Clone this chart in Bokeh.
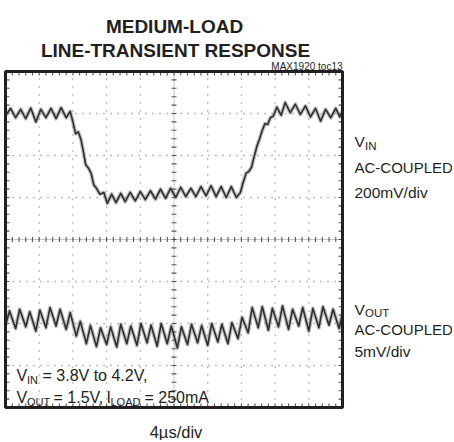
import numpy as np
from bokeh.plotting import figure
from bokeh.models import Label, Range1d, ColumnDataSource
from bokeh.embed import file_html
from bokeh.resources import INLINE

# ---------------- data (divisions; x: 4us/div, y: screen divisions) ----------------
vin_t = [0.00, 0.15, 0.30, 0.45, 0.60, 0.75, 0.90, 1.05, 1.20, 1.35, 1.50, 1.65, 1.80, 1.92,
         2.00, 2.08, 2.16, 2.24, 2.32, 2.38, 2.46, 2.54, 2.62, 2.70, 2.80,
         2.92, 3.02, 3.15, 3.28, 3.42, 3.55, 3.70, 3.85, 4.00, 4.15, 4.30, 4.45, 4.60, 4.75,
         4.90, 5.05, 5.20, 5.35, 5.50, 5.65, 5.80, 5.95, 6.10, 6.25, 6.40, 6.55, 6.70, 6.85, 6.97,
         7.05, 7.14, 7.22, 7.30, 7.38, 7.46, 7.54, 7.62, 7.70, 7.78, 7.86, 7.95,
         8.05, 8.18, 8.30, 8.45, 8.60, 8.75, 8.90, 9.05, 9.20, 9.35, 9.50, 9.65, 9.80, 9.92, 10.00]
vin_v = [2.95, 3.12, 2.90, 3.10, 2.88, 3.13, 2.80, 3.10, 2.90, 3.12, 2.88, 3.14, 2.90, 3.05,
         2.80, 2.52, 2.56, 2.38, 2.05, 1.78, 1.70, 1.58, 1.30, 1.22, 1.08,
         1.12, 0.86, 1.08, 0.88, 1.10, 0.90, 1.12, 0.92, 1.14, 0.95, 1.16, 0.96, 1.20, 0.98,
         1.22, 1.00, 1.24, 1.02, 1.22, 1.02, 1.26, 1.04, 1.28, 1.02, 1.26, 1.00, 1.26, 1.00, 1.12,
         1.35, 1.58, 1.62, 1.72, 1.98, 2.22, 2.40, 2.60, 2.76, 2.74, 2.90, 2.94,
         3.15, 2.96, 3.26, 3.02, 3.22, 2.98, 3.18, 2.92, 3.12, 2.82, 3.10, 2.90, 3.12, 2.92, 3.05]

vout_t = [0.00, 0.12, 0.30, 0.42, 0.60, 0.72, 0.90, 1.02, 1.20, 1.32, 1.50, 1.62, 1.80, 1.92,
          2.10, 2.22, 2.40, 2.52, 2.70, 2.82, 3.00, 3.12, 3.30, 3.42, 3.60, 3.72, 3.90, 4.02,
          4.20, 4.32, 4.50, 4.62, 4.80, 4.92, 5.10, 5.22, 5.40, 5.52, 5.70, 5.82, 6.00, 6.12,
          6.30, 6.42, 6.60, 6.72, 6.90, 7.02, 7.20, 7.32, 7.50, 7.62, 7.80, 7.92, 8.10, 8.22,
          8.40, 8.52, 8.70, 8.82, 9.00, 9.12, 9.30, 9.42, 9.60, 9.72, 9.90, 10.00]
vout_v = [-2.05, -1.70, -2.12, -1.66, -2.08, -1.72, -2.18, -1.68, -2.10, -1.62, -2.06, -1.66, -2.14, -1.74,
          -2.30, -1.95, -2.48, -2.05, -2.55, -2.10, -2.50, -2.08, -2.56, -2.02, -2.48, -2.06, -2.52, -2.00,
          -2.46, -2.04, -2.54, -2.00, -2.48, -2.06, -2.58, -2.08, -2.50, -2.02, -2.46, -2.05, -2.52, -2.00,
          -2.44, -2.02, -2.48, -1.98, -2.36, -1.85, -2.22, -1.62, -2.10, -1.60, -2.16, -1.64, -2.08, -1.58,
          -2.14, -1.66, -2.06, -1.62, -2.18, -1.64, -2.10, -1.60, -2.04, -1.66, -2.12, -1.75]

x_divs = [0, 1, 2, 3, 4, 5, 6, 7, 8, 9, 10]
y_divs = [-4, -3, -2, -1, 0, 1, 2, 3, 4]

# ---------------- layout ----------------
W, H = 452, 440             # figure size (page origin at 0,0)
PXD_X, PXD_Y = 33.7, 42.0   # px per division
X0PX, Y0PX = 5.0, 239.0     # screen px of (0 div, 0 div)


def dx(px):
    return (px - X0PX) / PXD_X


def dy(py):
    return (Y0PX - py) / PXD_Y


FONT = "Liberation Sans"
INK = "#231f20"
GRID = "#7a7a7a"

p = figure(width=W, height=H,
           x_range=Range1d(dx(0), dx(W)), y_range=Range1d(dy(H), dy(0)),
           x_axis_location=None, y_axis_location=None,
           min_border=0, min_border_left=0, min_border_right=0, min_border_top=0, min_border_bottom=0,
           toolbar_location=None, output_backend="svg",
           background_fill_color="white", border_fill_color="white",
           outline_line_color=None)
p.grid.visible = False

xmin, xmax = x_divs[0], x_divs[-1]
ymin, ymax = y_divs[0], y_divs[-1]
xc, yc = x_divs[len(x_divs) // 2], y_divs[len(y_divs) // 2]

# dotted graticule
inner_x = [v for v in x_divs if v not in (xmin, xc, xmax)]
inner_y = [v for v in y_divs if v not in (ymin, yc, ymax)]
p.segment(x0=inner_x, y0=[ymin] * len(inner_x), x1=inner_x, y1=[ymax] * len(inner_x),
          line_color=GRID, line_width=1.3, line_dash="1 7")
p.segment(x0=[xmin] * len(inner_y), y0=inner_y, x1=[xmax] * len(inner_y), y1=inner_y,
          line_color=GRID, line_width=1.3, line_dash="1 6")

# centre cross lines
p.segment(x0=[xc], y0=[ymin], x1=[xc], y1=[ymax], line_color="#8a8a8a", line_width=1, line_dash="1 1")
p.segment(x0=[xmin], y0=[yc], x1=[xmax], y1=[yc], line_color="#8a8a8a", line_width=1, line_dash="1 1")

# minor ticks (1/5 div) on centre lines and inside the frame edges
sub_x = np.arange(xmin, xmax + 0.001, 0.2)[1:-1]
sub_y = np.arange(ymin, ymax + 0.001, 0.2)[1:-1]
hx = 2.5 / PXD_Y   # half tick length (vertical ticks) in y-div
hy = 2.5 / PXD_X   # half tick length (horizontal ticks) in x-div
ex = 4.0 / PXD_Y
ey = 4.0 / PXD_X
tk = dict(line_color="#555555", line_width=1.1)
p.segment(x0=sub_x, y0=yc - hx, x1=sub_x, y1=yc + hx, **tk)
p.segment(x0=xc - hy, y0=sub_y, x1=xc + hy, y1=sub_y, **tk)
p.segment(x0=sub_x, y0=ymin, x1=sub_x, y1=ymin + ex, **tk)
p.segment(x0=sub_x, y0=ymax, x1=sub_x, y1=ymax - ex, **tk)
p.segment(x0=xmin, y0=sub_y, x1=xmin + ey, y1=sub_y, **tk)
p.segment(x0=xmax, y0=sub_y, x1=xmax - ey, y1=sub_y, **tk)

# traces (persistence blur + core line)
for tt, vv in ((vin_t, vin_v), (vout_t, vout_v)):
    src = ColumnDataSource(dict(t=tt, v=vv))
    p.line("t", "v", source=src, line_color="#8c8c8c", line_width=4, line_alpha=0.55, line_join="round")
    p.line("t", "v", source=src, line_color="#2e2e2e", line_width=1.6, line_join="round")

# screen frame
p.quad(left=[xmin], right=[xmax], bottom=[ymin], top=[ymax], fill_color=None,
       line_color=INK, line_width=3)


def lab(text, px, py, size, bold=False, align="left", color=INK):
    p.add_layout(Label(x=dx(px), y=dy(py), text=text, text_font=FONT,
                       text_font_size=f"{size}px", text_font_style="bold" if bold else "normal",
                       text_align=align, text_baseline="alphabetic", text_color=color))


# titles
lab("MEDIUM-LOAD", 174, 26, 19, bold=True, align="center")
lab("LINE-TRANSIENT RESPONSE", 175, 50, 19, bold=True, align="center")
lab("MAX1920 toc13", 342, 66, 10, align="right")

# channel labels
lab("V", 354, 141, 15.5)
lab("IN", 364.5, 145, 11.5)
lab("AC-COUPLED", 354, 167, 15)
lab("200mV/div", 354, 192, 15.5)

lab("V", 354, 309, 15.5)
lab("OUT", 364.5, 312, 11.5)
lab("AC-COUPLED", 354, 329, 15)
lab("5mV/div", 354, 351, 15.5)

# conditions
lab("V", 16, 375, 16)
lab("IN", 26.5, 379, 11)
lab("= 3.8V to 4.2V,", 42, 375, 16)
lab("V", 16, 397, 16)
lab("OUT", 26.5, 401, 11)
lab("= 1.5V,", 53, 397, 16)
lab("I", 106, 397, 16)
lab("LOAD", 110, 401, 11)
lab("= 250mA", 144, 397, 16)

lab("4µs/div", 175.5, 431, 16.5, align="center")

open("out.html", "w").write(file_html(p, INLINE))
